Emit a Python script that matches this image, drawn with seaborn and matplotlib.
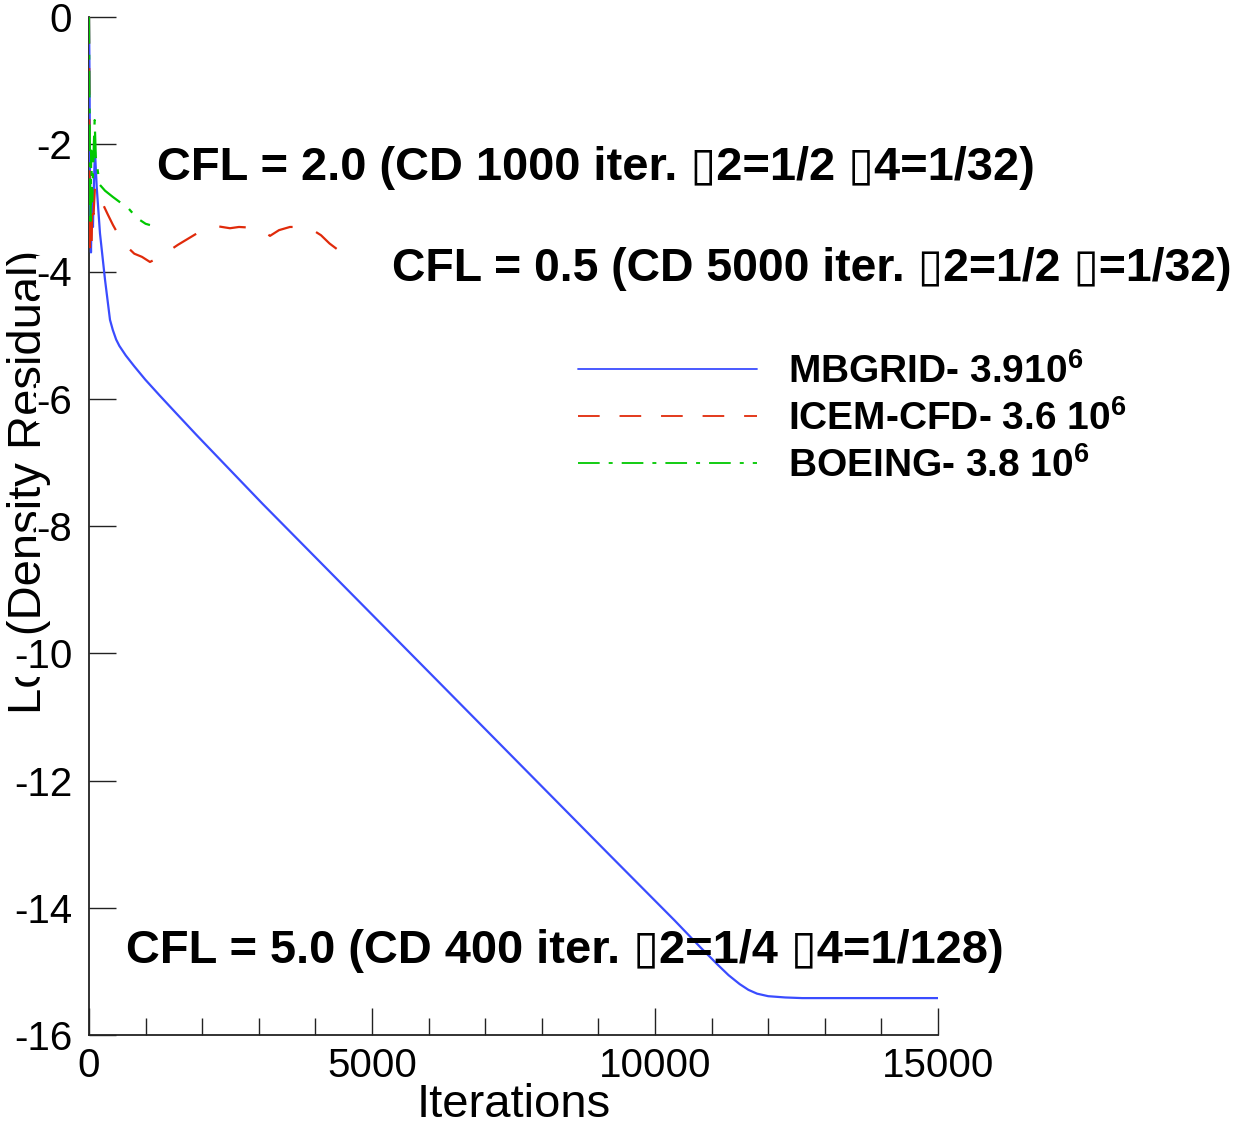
import matplotlib
matplotlib.use("Agg")
import matplotlib.pyplot as plt
from matplotlib.ticker import MultipleLocator, FixedLocator
import seaborn as sns
import pandas as pd

# ---------------- data ----------------
mbgrid_iter = [0, 10, 20, 35, 50, 70, 90, 106, 136, 194, 283, 371, 421, 480, 537, 650,
               800, 995, 1250, 1532, 1900, 2299, 3065, 4598, 6132, 7664, 9197, 10347,
               10800, 11113, 11300, 11496, 11650, 11802, 12000, 12300, 12600, 13500, 15000]
mbgrid_res = [0, -1.0, -3.0, -3.7, -2.9, -3.3, -2.5, -2.12, -2.67, -3.4, -4.13, -4.76,
              -4.92, -5.07, -5.17, -5.32, -5.49, -5.70, -5.95, -6.22, -6.57, -6.94,
              -7.65, -9.03, -10.41, -11.79, -13.17, -14.20, -14.62, -14.90, -15.06,
              -15.20, -15.29, -15.35, -15.39, -15.41, -15.42, -15.42, -15.42]

icem_iter = [0, 8, 18, 30, 45, 60, 80, 106, 160, 224, 330, 424, 600, 800, 936, 1077,
             1254, 1572, 1908, 2280, 2491, 2650, 2850, 3057, 3198, 3357, 3550, 3763,
             3958, 4099, 4250, 4399, 4558, 4752]
icem_res = [0, -2.0, -3.77, -3.2, -3.6, -2.9, -3.1, -2.66, -2.75, -2.90, -3.10, -3.27,
            -3.55, -3.72, -3.77, -3.85, -3.77, -3.58, -3.40, -3.29, -3.32, -3.30, -3.31,
            -3.35, -3.44, -3.35, -3.30, -3.30, -3.35, -3.43, -3.56, -3.66, -3.63, -3.57]

boeing_iter = [0, 5, 15, 25, 40, 55, 75, 100, 120, 160, 194, 283, 424, 560, 689, 848,
               1000, 1077]
boeing_res = [0, -1.0, -2.0, -3.3, -2.1, -2.9, -2.3, -1.62, -2.2, -2.45, -2.64, -2.73,
              -2.83, -2.92, -3.0, -3.16, -3.25, -3.27]

series_labels = ["MBGRID- 3.910$^{\\mathbf{6}}$",
                 "ICEM-CFD- 3.6 10$^{\\mathbf{6}}$",
                 "BOEING- 3.8 10$^{\\mathbf{6}}$"]

x_ticks = [0, 5000, 10000, 15000]
y_ticks = [0, -2, -4, -6, -8, -10, -12, -14, -16]

annotations = [
    ("CFL = 2.0 (CD 1000 iter. \u25AF2=1/2 \u25AF4=1/32)", 1200, -2.56, 33.8),
    ("CFL = 0.5 (CD 5000 iter. \u25AF2=1/2 \u25AF=1/32)", 5353, -4.15, 33.4),
    ("CFL = 5.0 (CD 400 iter. \u25AF2=1/4 \u25AF4=1/128)", 654, -14.87, 33.8),
]

# ---------------- style ----------------
sns.set_style("white")
fam = ["Liberation Sans", "DejaVu Sans"]
plt.rcParams["font.family"] = fam
plt.rcParams["text.color"] = "black"
plt.rcParams["axes.labelcolor"] = "black"
plt.rcParams["xtick.color"] = "black"
plt.rcParams["ytick.color"] = "black"
plt.rcParams["axes.unicode_minus"] = False
plt.rcParams["mathtext.fontset"] = "custom"
plt.rcParams["mathtext.rm"] = "Liberation Sans"
plt.rcParams["mathtext.bf"] = "Liberation Sans:bold"

W, H = 1241, 1126
fig = plt.figure(figsize=(W / 100, H / 100), dpi=100)
ax = fig.add_axes([89 / W, (H - 1035) / H, 849 / W, 1018 / H])

blue = "#3a4cff"
red = "#e02a0a"
green = "#00c800"

df_b = pd.DataFrame({"it": mbgrid_iter, "res": mbgrid_res})
df_r = pd.DataFrame({"it": icem_iter, "res": icem_res})
df_g = pd.DataFrame({"it": boeing_iter, "res": boeing_res})

sns.lineplot(data=df_b, x="it", y="res", ax=ax, color=blue, lw=1.6,
             sort=False, estimator=None, label=series_labels[0], zorder=3)
sns.lineplot(data=df_r, x="it", y="res", ax=ax, color=red, lw=1.6,
             linestyle=(0, (12, 11)), sort=False, estimator=None,
             label=series_labels[1], zorder=3)
sns.lineplot(data=df_g, x="it", y="res", ax=ax, color=green, lw=1.6,
             linestyle=(0, (12, 5, 2.2, 5)), sort=False, estimator=None,
             label=series_labels[2], zorder=3)

ax.set_xlim(0, 15000)
ax.set_ylim(-16, 0)
for s in ["top", "right"]:
    ax.spines[s].set_visible(False)
for s in ["left", "bottom"]:
    ax.spines[s].set_color("#222222")
    ax.spines[s].set_linewidth(1.3)

ax.xaxis.set_major_locator(FixedLocator(x_ticks))
ax.xaxis.set_minor_locator(MultipleLocator(1000))
ax.yaxis.set_major_locator(FixedLocator(y_ticks))
ax.set_xticklabels([str(v) for v in x_ticks])
ax.set_yticklabels([str(v) for v in y_ticks])

ax.tick_params(axis="both", which="both", bottom=True, left=True, top=False,
               right=False)
ax.tick_params(axis="both", which="major", direction="in", length=19.5, width=1.0,
               color="#222222", labelsize=29, labelcolor="black")
ax.tick_params(axis="x", which="minor", direction="in", length=12.5, width=1.0,
               color="#222222")
ax.tick_params(axis="x", which="major", pad=8.5)
ax.tick_params(axis="y", which="major", pad=12)

for lbl in ax.get_yticklabels():
    lbl.set_bbox(dict(facecolor="white", edgecolor="none", pad=0.5))

ax.set_xlabel("Iterations", fontsize=34, color="black")
ax.xaxis.set_label_coords(0.5, -0.047)
ax.set_ylabel("")

fig.text(29 / W, (H - 482) / H, "Log(Density Residual)", rotation=90,
         ha="center", va="center", fontsize=34, color="black", zorder=-1)

for txt, xv, yv, fs in annotations:
    ax.text(xv, yv, txt, fontsize=fs, fontweight="bold", ha="left", va="baseline",
            family=fam, color="black", clip_on=False, zorder=5)

leg = ax.legend(loc="upper left", bbox_to_anchor=(578 / W, (H - 353) / H),
                bbox_transform=fig.transFigure, frameon=False,
                prop={"weight": "bold", "size": 28, "family": fam},
                handlelength=4.6, handletextpad=0.8, labelspacing=0.236,
                borderpad=0, borderaxespad=0)
for line in leg.get_lines():
    line.set_linewidth(1.3)
for t in leg.get_texts():
    t.set_color("black")

fig.savefig("out.png", dpi=100, facecolor="white")
